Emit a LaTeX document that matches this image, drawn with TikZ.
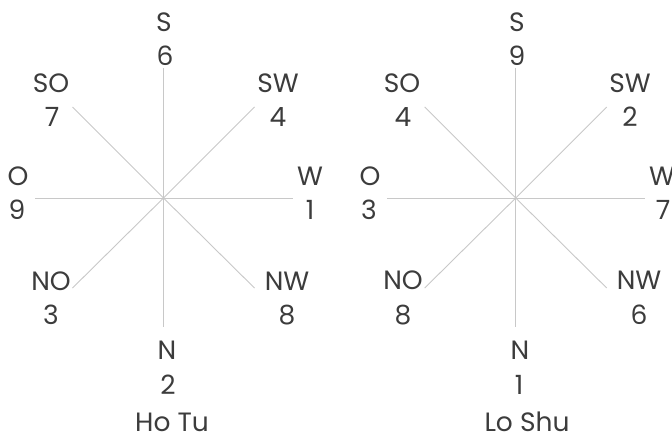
\documentclass[tikz,border=0pt]{standalone}
\usepackage{fontspec}
\setmainfont{Poppins}
\usetikzlibrary{calc}
\definecolor{txt}{HTML}{3C3C3C}
\definecolor{ray}{HTML}{C8C8C8}
\begin{document}
\begin{tikzpicture}[x=1pt,y=-1pt,
  lbl/.style={inner sep=0pt,text=txt,font=\fontsize{26.5}{26.5}\selectfont},
  rayline/.style={draw=ray,line width=0.9pt}]
\useasboundingbox (0,0) rectangle (672,434);
% ---------- Ho Tu ----------
\coordinate (A) at (163.5,198);
\node[lbl] (hS) at (164,22) {S};
\node[lbl] (h6) at (165,56) {6};
\node[lbl] (hSO) at (51,83) {SO};
\node[lbl] (h7) at (52,117) {7};
\node[lbl] (hSW) at (278,83) {SW};
\node[lbl] (h4) at (278,117) {4};
\node[lbl] (hO) at (18,176) {O};
\node[lbl] (h9) at (17,210) {9};
\node[lbl] (hW) at (310,176) {W};
\node[lbl] (h1) at (310,210) {1};
\node[lbl] (hNO) at (51,281) {NO};
\node[lbl] (h3) at (51,315) {3};
\node[lbl] (hNW) at (287,281) {NW};
\node[lbl] (h8) at (287,315) {8};
\node[lbl] (hN) at (167,350) {N};
\node[lbl] (h2) at (168,385) {2};
\node[lbl] (hcap) at (172,422) {Ho Tu};
% ---------- Lo Shu ----------
\coordinate (B) at (515.7,198);
\node[lbl] (lS) at (517,22) {S};
\node[lbl] (l9) at (517,56) {9};
\node[lbl] (lSO) at (402,83) {SO};
\node[lbl] (l4) at (403,117) {4};
\node[lbl] (lSW) at (630,83) {SW};
\node[lbl] (l2) at (630,117) {2};
\node[lbl] (lO) at (370,176) {O};
\node[lbl] (l3) at (369,210) {3};
\node[lbl] (lW) at (662,176) {W};
\node[lbl] (l7) at (663,210) {7};
\node[lbl] (lNO) at (403,280) {NO};
\node[lbl] (l8) at (403,315) {8};
\node[lbl] (lNW) at (639,280) {NW};
\node[lbl] (l6) at (639,315) {6};
\node[lbl] (lN) at (520,350) {N};
\node[lbl] (l1) at (519,385) {1};
\node[lbl] (lcap) at (527,422) {Lo Shu};
% rays
\foreach \c in {A,B}{
  \coordinate (\c-s) at ($(\c)+(0,-130)$);
  \coordinate (\c-n) at ($(\c)+(0,129)$);
  \coordinate (\c-o) at ($(\c)+(-129,0)$);
  \coordinate (\c-w) at ($(\c)+(129,0)$);
  \coordinate (\c-so) at ($(\c)+(-91,-91)$);
  \coordinate (\c-sw) at ($(\c)+(91,-91)$);
  \coordinate (\c-no) at ($(\c)+(-91,90)$);
  \coordinate (\c-nw) at ($(\c)+(91,90)$);
  \foreach \d in {s,n,o,w,so,sw,no,nw}
    \draw[rayline] (\c) -- (\c-\d);
}
\end{tikzpicture}
\end{document}
